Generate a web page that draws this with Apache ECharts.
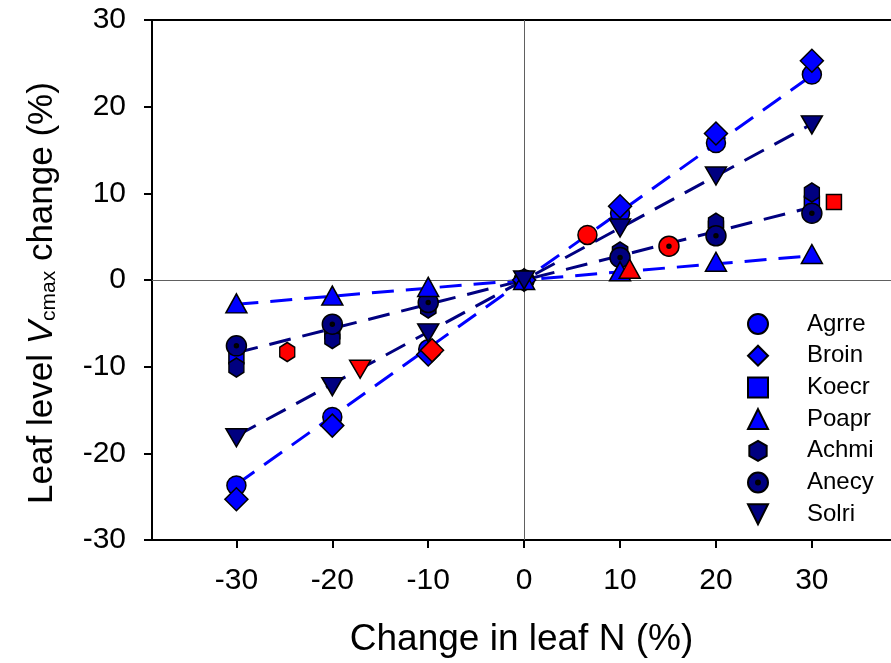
<!DOCTYPE html>
<html>
<head>
<meta charset="utf-8">
<script src="https://cdn.jsdelivr.net/npm/echarts@6/dist/echarts.min.js"></script>
<style>html,body{margin:0;padding:0;background:#fff;}#c{width:891px;height:663px;}</style>
</head>
<body>
<div id="c"></div>
<script>
// ---- data ----
const xs = [-30, -20, -10, 0, 10, 20, 30];
const agrre = [-23.7, -15.8, -8.0, 0, 7.7, 15.8, 23.7];
const broin = [-25.3, -16.8, -8.6, 0, 8.5, 16.9, 25.3];
const koecr = [-8.8, -5.9, -2.9, 0, 2.9, 5.9, 8.8];
const poapr = [-2.7, -1.8, -0.8, 0, 1.0, 2.1, 3.0];
const achmi = [-10.1, -6.8, -3.3, 0, 3.3, 6.6, 10.1];
const anecy = [-7.6, -5.1, -2.6, 0, 2.6, 5.1, 7.7];
const solri = [-18.2, -12.3, -6.1, 0, 6.0, 12.0, 17.9];

const redAgrre = [[6.6, 5.2]];
const redBroin = [[-9.6, -8.1]];
const redKoecr = [[32.3, 9.0]];
const redPoapr = [[11.0, 1.3]];
const redAchmi = [[-24.7, -8.3]];
const redAnecy = [[15.1, 3.9]];
const redSolri = [[-17.1, -10.3]];

const fitXs = [-30, 30];
const fitSteep = [-23.6, 23.6];
const fitSolri = [-18.0, 18.0];
const fitMid = [-8.4, 8.4];
const fitPoapr = [-2.8, 2.8];

const xTicks = [-30, -20, -10, 0, 10, 20, 30];
const legendNames = ['Agrre', 'Broin', 'Koecr', 'Poapr', 'Achmi', 'Anecy', 'Solri'];

// ---- styles ----
const FONT = "'Liberation Sans', Arial, sans-serif";
const BLUE = '#0000FF', NAVY = '#000080', RED = '#FF0000';
function circ(r) { return `M${-r} 0 A${r} ${r} 0 1 0 ${r} 0 A${r} ${r} 0 1 0 ${-r} 0 Z`; }
const dotCircle = 'path://' + circ(1) + ' ' + circ(0.2) + ' ' + circ(0.12) + ' ' + circ(0.05);
const hexagon = 'path://M0 -1 L0.866 -0.5 L0.866 0.5 L0 1 L-0.866 0.5 L-0.866 -0.5 Z';
const invTri = 'path://M-1 -1 L1 -1 L0 1 Z';

const zip = (a, b) => a.map((v, i) => [v, b[i]]);

function pts(name, ys, symbol, size, color) {
  return {
    name, type: 'scatter', data: zip(xs, ys), symbol, symbolSize: size,
    itemStyle: { color, borderColor: '#000', borderWidth: 1.5, opacity: 1 },
    emphasis: { disabled: true }, z: 5
  };
}
function redPts(name, data, symbol, size) {
  return {
    name, type: 'scatter', data, symbol, symbolSize: size,
    itemStyle: { color: RED, borderColor: '#000', borderWidth: 1.5, opacity: 1 },
    emphasis: { disabled: true }, z: 6
  };
}
function fit(name, ys, color) {
  return {
    name, type: 'line', data: zip(fitXs, ys), symbol: 'none', silent: true,
    lineStyle: { color, width: 3, type: [22, 12] }, z: 3
  };
}

const chart = echarts.init(document.getElementById('c'), null, { renderer: 'canvas' });
chart.setOption({
  animation: false,
  backgroundColor: '#fff',
  textStyle: { fontFamily: FONT },
  grid: { left: 152, right: 0, top: 20, bottom: 122, containLabel: false },
  xAxis: [{
    type: 'value', min: -38.8, max: 38.25, position: 'bottom',
    axisLine: { show: true, onZero: false, lineStyle: { color: '#000', width: 2 } },
    axisTick: { show: true, inside: false, length: 8, customValues: xTicks, lineStyle: { color: '#000', width: 2 } },
    axisLabel: { customValues: xTicks, fontSize: 30, color: '#000', margin: 26, fontFamily: FONT },
    splitLine: { show: false },
    name: 'Change in leaf N (%)', nameLocation: 'middle', nameGap: 81,
    nameTextStyle: { fontSize: 37, color: '#000', fontFamily: FONT }
  }, {
    type: 'value', min: -38.8, max: 38.25, position: 'top',
    axisLine: { show: true, onZero: false, lineStyle: { color: '#000', width: 2 } },
    axisTick: { show: false }, axisLabel: { show: false }, splitLine: { show: false }
  }],
  yAxis: {
    type: 'value', min: -30, max: 30, interval: 10,
    axisLine: { show: true, onZero: false, lineStyle: { color: '#000', width: 2 } },
    axisTick: { show: true, inside: false, length: 8, lineStyle: { color: '#000', width: 2 } },
    axisLabel: { fontSize: 30, color: '#000', margin: 26, fontFamily: FONT },
    splitLine: { show: false },
    name: '{a|Leaf level }{v|V}{s|cmax}{a| change (%)}',
    nameLocation: 'middle', nameRotate: 90, nameGap: 92,
    nameTextStyle: {
      color: '#000',
      padding: [0, 26, 0, 0],
      rich: {
        a: { fontSize: 35, fontFamily: FONT, color: '#000' },
        v: { fontSize: 35, fontFamily: FONT, fontStyle: 'italic', color: '#000' },
        s: { fontSize: 21, fontFamily: FONT, color: '#000', verticalAlign: 'bottom', padding: [14, 0, 0, 0] }
      }
    }
  },
  legend: {
    data: legendNames, orient: 'vertical', left: 742, top: 307,
    itemWidth: 20, itemHeight: 20, itemGap: 7.7,
    textStyle: { fontSize: 24, color: '#000', fontFamily: FONT, lineHeight: 24, padding: [0, 0, 0, 34] },
    selectedMode: false
  },
  series: [
    {
      name: 'ref', type: 'scatter', data: [], silent: true, z: 1,
      markLine: {
        silent: true, symbol: 'none', animation: false,
        label: { show: false },
        lineStyle: { color: '#606060', width: 1, type: 'solid' },
        data: [{ xAxis: 0 }, { yAxis: 0 }]
      }
    },
    fit('fitSteep', fitSteep, BLUE),
    fit('fitSolri', fitSolri, NAVY),
    fit('fitMid', fitMid, NAVY),
    fit('fitPoapr', fitPoapr, BLUE),
    pts('Koecr', koecr, 'rect', 15, BLUE),
    pts('Achmi', achmi, hexagon, [15, 19], NAVY),
    pts('Anecy', anecy, dotCircle, 20, NAVY),
    pts('Agrre', agrre, 'circle', 19, BLUE),
    pts('Broin', broin, 'diamond', 23, BLUE),
    pts('Poapr', poapr, 'triangle', [21, 19], BLUE),
    pts('Solri', solri, invTri, [21, 18], NAVY),
    redPts('rAgrre', redAgrre, 'circle', 19),
    redPts('rBroin', redBroin, 'diamond', 23),
    redPts('rKoecr', redKoecr, 'rect', 15),
    redPts('rPoapr', redPoapr, 'triangle', [21, 19]),
    redPts('rAchmi', redAchmi, hexagon, [15, 19]),
    redPts('rAnecy', redAnecy, dotCircle, 20),
    redPts('rSolri', redSolri, invTri, [21, 18])
  ]
});
</script>
</body>
</html>
